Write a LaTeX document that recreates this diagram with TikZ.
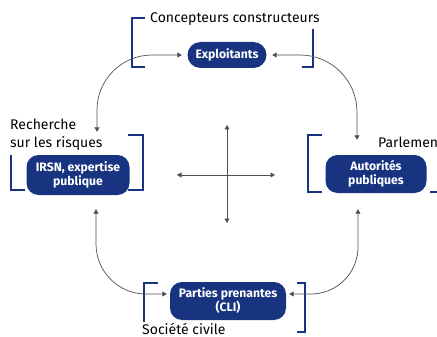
\documentclass[tikz,border=0pt]{standalone}
\usepackage{fontspec}
\setmainfont{Fira Sans}
\usetikzlibrary{arrows.meta}
\definecolor{irsnblue}{RGB}{24,52,128}
\definecolor{linkgray}{RGB}{80,80,80}
\tikzset{
  actor/.style={fill=irsnblue, text=white, align=center, inner sep=0pt,
    font=\bfseries\fontsize{12.2}{14}\selectfont},
  bracket/.style={draw=irsnblue, line width=2.6pt},
  link/.style={draw=linkgray, line width=0.7pt,
    {Triangle[length=4.5pt,width=5pt]}-{Triangle[length=4.5pt,width=5pt]}},
  groupname/.style={inner sep=0pt, font=\fontsize{14}{18}\selectfont},
}
\begin{document}
\begin{tikzpicture}[x=1pt, y=-1pt]
  \useasboundingbox (0,0) rectangle (437,337);
  %
  % Actors
  \node[actor, minimum width=79pt, minimum height=26pt, rounded corners=13pt]
    (expl) at (227,55) {Exploitants};
  \node[actor, minimum width=103pt, minimum height=40pt, rounded corners=12pt]
    (irsn) at (78,175) {IRSN, expertise\\publique};
  \node[actor, minimum width=101pt, minimum height=38pt, rounded corners=12pt]
    (auto) at (376,174) {Autorités\\publiques};
  \node[actor, minimum width=116pt, minimum height=38pt, rounded corners=12pt]
    (parties) at (228,301) {Parties prenantes\\(CLI)};
  %
  % Group names
  \node[groupname, anchor=base west] (concep) at (150,23) {Concepteurs constructeurs};
  \node[groupname, anchor=base west, align=left] (recherche) at (10,147)
    {Recherche\\sur les risques};
  \node[groupname, anchor=base west] (parlement) at (378,147) {Parlement};
  \node[groupname, anchor=base west] (societe) at (142,334.5) {Société civile};
  %
  % Brackets
  \draw[bracket] (145,18) -- (132,18) -- (132,67) -- (145,67);
  \draw[bracket] (313,29) -- (313,67) -- (302,67);
  \draw[bracket] (11,155) -- (11,190) -- (25,190);
  \draw[bracket] (128,135) -- (143,135) -- (143,190) -- (128,190);
  \draw[bracket] (322,135) -- (308,135) -- (308,192) -- (322,192);
  \draw[bracket] (430,192) -- (439,192) -- (439,150);
  \draw[bracket] (158,283) -- (144,283) -- (144,322);
  \draw[bracket] (297,283) -- (305,283) -- (305,332) -- (297,332);
  %
  % Links between actors
  \draw[link, rounded corners=55pt, shorten <=5.5pt, shorten >=23pt]
    (expl.west) -| ([xshift=19pt]irsn.north);
  \draw[link, rounded corners=57pt, shorten <=5.5pt, shorten >=15pt]
    (expl.east) -| ([xshift=-19pt]auto.north);
  \draw[link, rounded corners=50pt, shorten <=14pt, shorten >=3pt]
    ([xshift=18pt]irsn.south) |- ([yshift=7pt]parties.west);
  \draw[link, rounded corners=47pt, shorten <=16pt, shorten >=3pt]
    ([xshift=-18pt]auto.south) |- ([yshift=7pt]parties.east);
  %
  % Cross in the middle
  \coordinate (cn) at (227,125);
  \coordinate (cs) at (227,223);
  \coordinate (cw) at (177,175);
  \coordinate (ce) at (275,175);
  \draw[link] (cn) -- (cs);
  \draw[link] (cw) -- (ce);
\end{tikzpicture}
\end{document}
